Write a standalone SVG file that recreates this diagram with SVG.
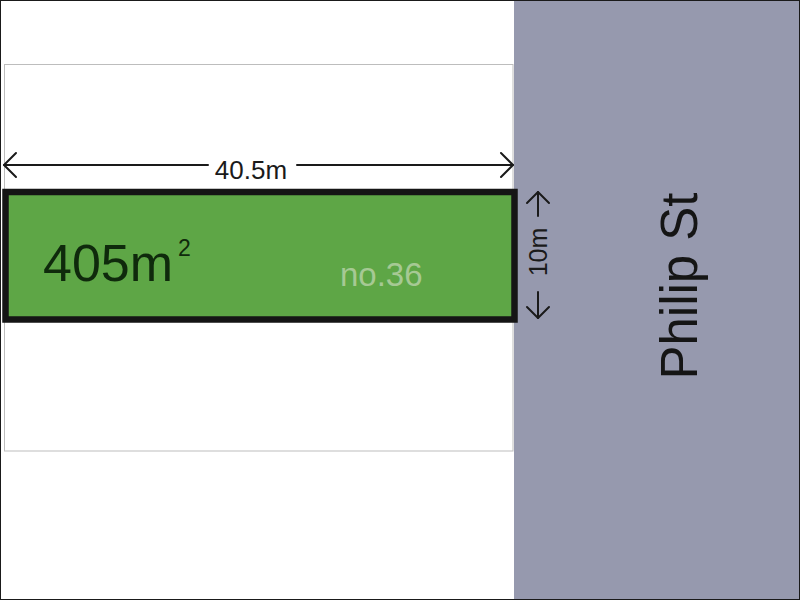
<svg xmlns="http://www.w3.org/2000/svg" width="800" height="600" viewBox="0 0 800 600">
  <style>
    text { font-family: "Liberation Sans", Arial, sans-serif; }
    .dim { stroke: #1a1a1a; stroke-width: 2; fill: none; stroke-linecap: round; stroke-linejoin: round; }
    .dimtext { fill: #1a1a1a; }
  </style>
  <rect x="0" y="0" width="800" height="600" fill="#ffffff"/>
  <g id="street">
    <rect x="514" y="0" width="286" height="600" fill="#9699ae"/>
    <text x="697" y="286" font-size="51" fill="#151515" text-anchor="middle" transform="rotate(-90 697 286)">Philip St</text>
  </g>
  <g id="lot-boundary">
    <rect x="4.5" y="64.5" width="508.5" height="386.5" fill="none" stroke="#bdbdbd" stroke-width="1"/>
  </g>
  <g id="lot">
    <rect x="5.5" y="192" width="509" height="127.5" fill="#5ea646" stroke="#151515" stroke-width="6.5"/>
    <text x="43" y="281" font-size="52" fill="#0f2a0c">405m</text>
    <text x="178" y="256" font-size="23" fill="#0f2a0c">2</text>
    <text x="340" y="286" font-size="33" fill="#a6c994">no.36</text>
  </g>
  <g id="connectors">
    <g id="width-dimension">
      <line class="dim" x1="4" y1="165" x2="208" y2="165"/>
      <line class="dim" x1="297" y1="165" x2="513" y2="165"/>
      <polyline class="dim" points="16,153 4,165 16,177"/>
      <polyline class="dim" points="501,153 513,165 501,177"/>
      <text class="dimtext" x="251" y="179" font-size="26" text-anchor="middle">40.5m</text>
    </g>
    <g id="depth-dimension">
      <line class="dim" x1="538" y1="192" x2="538" y2="216"/>
      <polyline class="dim" points="527,203 538,192 549,203"/>
      <line class="dim" x1="538" y1="292" x2="538" y2="318"/>
      <polyline class="dim" points="527,307 538,318 549,307"/>
      <text class="dimtext" x="547" y="252" font-size="25" text-anchor="middle" transform="rotate(-90 547 252)">10m</text>
    </g>
  </g>
  <rect x="0.5" y="0.5" width="799" height="599" fill="none" stroke="#1a1a1a" stroke-width="1"/>
</svg>
